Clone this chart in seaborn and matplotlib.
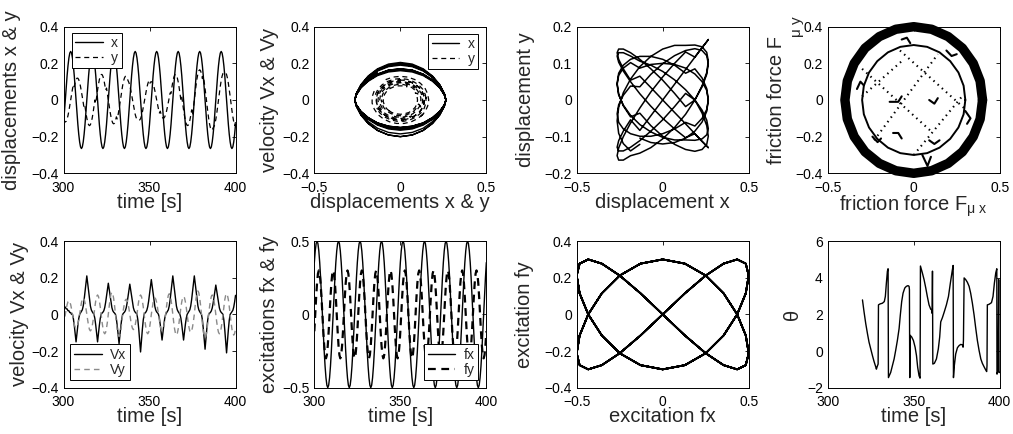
import numpy as np
import matplotlib
matplotlib.use("Agg")
import matplotlib.pyplot as plt
from matplotlib.lines import Line2D
import seaborn as sns

# ---------------- data ----------------
# sampled series share one time base: 193 samples from 300 s to 400 s
time_start, time_end, n_samples = 300.0, 400.0, 193

x_disp = [
    -.133, -.069, 0, .069, .133, .187, .229, .256, .265, .256, .229, .187, .133, .069, 0, -.069, -.133, -.187, -.229, -.256, -.265, -.256, -.229, -.187,
    -.133, -.069, 0, .069, .133, .187, .229, .256, .265, .256, .229, .187, .133, .069, 0, -.069, -.133, -.187, -.229, -.256, -.265, -.256, -.229, -.187,
    -.133, -.069, 0, .069, .133, .187, .229, .256, .265, .256, .229, .187, .133, .069, 0, -.069, -.133, -.187, -.229, -.256, -.265, -.256, -.229, -.187,
    -.133, -.069, 0, .069, .133, .187, .229, .256, .265, .256, .229, .187, .133, .069, 0, -.069, -.133, -.187, -.229, -.256, -.265, -.256, -.229, -.187,
    -.133, -.069, 0, .069, .133, .187, .229, .256, .265, .256, .229, .187, .133, .069, 0, -.069, -.133, -.187, -.229, -.256, -.265, -.256, -.229, -.187,
    -.133, -.069, 0, .069, .133, .187, .229, .256, .265, .256, .229, .187, .133, .069, 0, -.069, -.133, -.187, -.229, -.256, -.265, -.256, -.229, -.187,
    -.133, -.069, 0, .069, .133, .187, .229, .256, .265, .256, .229, .187, .133, .069, 0, -.069, -.133, -.187, -.229, -.256, -.265, -.256, -.229, -.187,
    -.133, -.069, 0, .069, .133, .187, .229, .256, .265, .256, .229, .187, .133, .069, 0, -.069, -.133, -.187, -.229, -.256, -.265, -.256, -.229, -.187,
    -.133]

# y displacement: same beat as x, with a slowly drifting phase and varying amplitude
y_disp = [
    -.104, -.116, -.120, -.116, -.104, -.085, -.060, -.031, 0, .031, .060, .085,
    .073, .095, .111, .119, .119, .111, .095, .073, .046, .016, -.016, -.046,
    -.036, -.070, -.099, -.121, -.135, -.140, -.135, -.121, -.099, -.070, -.036, 0,
    -.018, .018, .054, .085, .111, .129, .139, .139, .129, .111, .085, .054,
    .065, .034, 0, -.034, -.065, -.092, -.113, -.126, -.130, -.126, -.113, -.092,
    -.103, -.079, -.050, -.017, .017, .050, .079, .103, .120, .129, .129, .120,
    .106, .095, .078, .055, .028, 0, -.028, -.055, -.078, -.095, -.106, -.110,
    -.109, -.109, -.102, -.087, -.067, -.042, -.014, .014, .042, .067, .087, .102,
    .087, .097, .100, .097, .087, .071, .050, .026, 0, -.026, -.050, -.071,
    -.061, -.079, -.092, -.099, -.099, -.092, -.079, -.061, -.038, -.013, .013, .038,
    .036, .070, .099, .121, .135, .140, .135, .121, .099, .070, .036, 0,
    .018, -.018, -.054, -.085, -.111, -.129, -.139, -.139, -.129, -.111, -.085, -.054,
    -.083, -.043, 0, .043, .083, .117, .143, .159, .165, .159, .143, .117,
    .131, .100, .063, .022, -.022, -.063, -.100, -.131, -.152, -.164, -.164, -.152,
    -.145, -.130, -.106, -.075, -.039, 0, .039, .075, .106, .130, .145, .150,
    .149, .149, .139, .119, .091, .057, .020, -.020, -.057, -.091, -.119, -.139,
    -.121]

# velocity time trace (Vx against time: sharp peaks, flat shoulders)
vx_vel = [
    .05, .04, .04, .03, .03, .02, .02, .01, .01, 0, 0,
    -.023, -.060, -.105, -.150,
    -.105, -.060, -.023, 0, .008, .015, .025, .046, .080, .122, .168, .210,
    .168, .122, .080, .046, .025, .015, .008, 0, -.023, -.060, -.105, -.150,
    -.105, -.060, -.023, 0, .007, .012, .020, .037, .065, .099, .136, .170,
    .136, .099, .065, .037, .020, .012, .007, 0, -.024, -.064, -.112, -.160,
    -.112, -.064, -.024, 0, .007, .012, .020, .036, .063, .096, .132, .165,
    .132, .096, .063, .036, .020, .012, .007, 0, -.031, -.082, -.144, -.205,
    -.144, -.082, -.031, 0, .008, .013, .023, .042, .072, .110, .152, .190,
    .152, .110, .072, .042, .023, .013, .008, 0, -.021, -.056, -.098, -.140,
    -.098, -.056, -.021, 0, .008, .015, .025, .046, .080, .122, .168, .210,
    .168, .122, .080, .046, .025, .015, .008, 0, -.021, -.056, -.098, -.140,
    -.098, -.056, -.021, 0, .008, .015, .025, .046, .080, .122, .168, .210,
    .168, .122, .080, .046, .025, .015, .008, 0, -.029, -.076, -.133, -.190,
    -.133, -.076, -.029, 0, .006, .011, .019, .035, .061, .093, .128, .160,
    .128, .093, .061, .035, .019, .011, .006, 0, -.032, -.084, -.147, -.210,
    -.147, -.084, -.032, 0, .007, .013, .022, .040, .068, .104]

# velocity (lens-shaped orbits of x)
vx_orbit = [
    .141, .163, .170, .163, .141, .109, .070, .029,
    0, -.027, -.066, -.102, -.133, -.153, -.160, -.153, -.133, -.102, -.066, -.027,
    0, .034, .082, .128, .166, .191, .200, .191, .166, .128, .082, .034,
    0, -.026, -.062, -.096, -.125, -.143, -.150, -.143, -.125, -.096, -.062, -.026,
    0, .029, .070, .109, .141, .163, .170, .163, .141, .109, .070, .029,
    0, -.028, -.068, -.106, -.137, -.158, -.165, -.158, -.137, -.106, -.068, -.028,
    0, .027, .066, .102, .133, .153, .160, .153, .133, .102, .066, .027,
    0, -.034, -.082, -.128, -.166, -.191, -.200, -.191, -.166, -.128, -.082, -.034,
    0, .032, .078, .122, .158, .182, .190, .182, .158, .122, .078, .032,
    0, -.026, -.062, -.096, -.125, -.143, -.150, -.143, -.125, -.096, -.062, -.026,
    0, .035, .084, .131, .170, .196, .205, .196, .170, .131, .084, .035,
    0, -.026, -.064, -.099, -.129, -.148, -.155, -.148, -.129, -.099, -.064, -.026,
    0, .033, .080, .125, .162, .186, .195, .186, .162, .125, .080, .033,
    0, -.031, -.076, -.118, -.154, -.177, -.185, -.177, -.154, -.118, -.076, -.031,
    0, .028, .068, .106, .137, .158, .165, .158, .137, .106, .068, .028,
    0, -.034, -.082, -.128, -.166, -.191, -.200, -.191, -.166, -.128, -.082, -.034,
    0, .031, .074, .115, .149]

# velocity of y (concentric dashed orbits)
vy_orbit = [
    -.047, -.024, 0, .024, .047, .066, .081, .091, .094, .091, .081, .066,
    .075, .057, .036, .012, -.012, -.036, -.057, -.075, -.087, -.093, -.093, -.087,
    -.105, -.094, -.077, -.055, -.028, 0, .028, .055, .077, .094, .105, .109,
    .108, .108, .101, .086, .066, .042, .014, -.014, -.042, -.066, -.086, -.101,
    -.087, -.098, -.101, -.098, -.087, -.071, -.051, -.026, 0, .026, .051, .071,
    .062, .080, .093, .100, .100, .093, .080, .062, .039, .013, -.013, -.039,
    -.022, -.043, -.061, -.074, -.083, -.086, -.083, -.074, -.061, -.043, -.022, 0,
    -.011, .011, .033, .052, .068, .079, .085, .085, .079, .068, .052, .033,
    .039, .020, 0, -.020, -.039, -.055, -.068, -.075, -.078, -.075, -.068, -.055,
    -.062, -.048, -.030, -.010, .010, .030, .048, .062, .072, .077, .077, .072,
    .105, .094, .077, .055, .028, 0, -.028, -.055, -.077, -.094, -.105, -.109,
    -.108, -.108, -.101, -.086, -.066, -.042, -.014, .014, .042, .066, .086, .101,
    .112, .125, .129, .125, .112, .091, .065, .033, 0, -.033, -.065, -.091,
    -.079, -.102, -.119, -.128, -.128, -.119, -.102, -.079, -.049, -.017, .017, .049,
    .030, .059, .083, .101, .113, .117, .113, .101, .083, .059, .030, 0,
    .015, -.015, -.045, -.071, -.093, -.108, -.116, -.116, -.108, -.093, -.071, -.045,
    -.055]

# Vy against time (gray dashed trace, faster wiggle)
vy_vel = [
    -.064, -.034,
    0, .029, .053, .069, .075, .069, .053, .029, 0, -.029, -.053, -.069, -.075, -.069, -.053, -.029,
    0, .034, .064, .083, .090, .083, .064, .034, 0, -.034, -.064, -.083, -.090, -.083, -.064, -.034,
    0, .041, .075, .098, .106, .098, .075, .041, 0, -.041, -.075, -.098, -.106, -.098, -.075, -.041,
    0, .046, .086, .112, .121, .112, .086, .046, 0, -.046, -.086, -.112, -.121, -.112, -.086, -.046,
    0, .032, .059, .077, .083, .077, .059, .032, 0, -.032, -.059, -.077, -.083, -.077, -.059, -.032,
    0, .041, .075, .098, .106, .098, .075, .041, 0, -.041, -.075, -.098, -.106, -.098, -.075, -.041,
    0, .034, .064, .083, .090, .083, .064, .034, 0, -.034, -.064, -.083, -.090, -.083, -.064, -.034,
    0, .043, .080, .104, .113, .104, .080, .043, 0, -.043, -.080, -.104, -.113, -.104, -.080, -.043,
    0, .038, .069, .091, .098, .091, .069, .038, 0, -.038, -.069, -.091, -.098, -.091, -.069, -.038,
    0, .049, .090, .118, .128, .118, .090, .049, 0, -.049, -.090, -.118, -.128, -.118, -.090, -.049,
    0, .041, .075, .098, .106, .098, .075, .041, 0, -.041, -.075, -.098, -.106, -.098, -.075, -.041,
    0, .043, .080, .104, .113, .104, .080, .043, 0, -.043, -.080, -.104, -.113, -.104, -.080]

fx_exc = [
    .354, .433, .483,
    .5, .483, .433, .354, .25, .129, 0, -.129, -.25, -.354, -.433, -.483, -.5, -.483, -.433, -.354, -.25, -.129, 0, .129, .25, .354, .433, .483,
    .5, .483, .433, .354, .25, .129, 0, -.129, -.25, -.354, -.433, -.483, -.5, -.483, -.433, -.354, -.25, -.129, 0, .129, .25, .354, .433, .483,
    .5, .483, .433, .354, .25, .129, 0, -.129, -.25, -.354, -.433, -.483, -.5, -.483, -.433, -.354, -.25, -.129, 0, .129, .25, .354, .433, .483,
    .5, .483, .433, .354, .25, .129, 0, -.129, -.25, -.354, -.433, -.483, -.5, -.483, -.433, -.354, -.25, -.129, 0, .129, .25, .354, .433, .483,
    .5, .483, .433, .354, .25, .129, 0, -.129, -.25, -.354, -.433, -.483, -.5, -.483, -.433, -.354, -.25, -.129, 0, .129, .25, .354, .433, .483,
    .5, .483, .433, .354, .25, .129, 0, -.129, -.25, -.354, -.433, -.483, -.5, -.483, -.433, -.354, -.25, -.129, 0, .129, .25, .354, .433, .483,
    .5, .483, .433, .354, .25, .129, 0, -.129, -.25, -.354, -.433, -.483, -.5, -.483, -.433, -.354, -.25, -.129, 0, .129, .25, .354, .433, .483,
    .5, .483, .433, .354, .25, .129, 0, -.129, -.25, -.354, -.433, -.483, -.5, -.483, -.433, -.354, -.25, -.129, 0, .129, .25, .354]

fy_exc = [
    -.115, 0, .115, .212, .277,
    .3, .277, .212, .115, 0, -.115, -.212, -.277, -.3, -.277, -.212, -.115, 0, .115, .212, .277,
    .3, .277, .212, .115, 0, -.115, -.212, -.277, -.3, -.277, -.212, -.115, 0, .115, .212, .277,
    .3, .277, .212, .115, 0, -.115, -.212, -.277, -.3, -.277, -.212, -.115, 0, .115, .212, .277,
    .3, .277, .212, .115, 0, -.115, -.212, -.277, -.3, -.277, -.212, -.115, 0, .115, .212, .277,
    .3, .277, .212, .115, 0, -.115, -.212, -.277, -.3, -.277, -.212, -.115, 0, .115, .212, .277,
    .3, .277, .212, .115, 0, -.115, -.212, -.277, -.3, -.277, -.212, -.115, 0, .115, .212, .277,
    .3, .277, .212, .115, 0, -.115, -.212, -.277, -.3, -.277, -.212, -.115, 0, .115, .212, .277,
    .3, .277, .212, .115, 0, -.115, -.212, -.277, -.3, -.277, -.212, -.115, 0, .115, .212, .277,
    .3, .277, .212, .115, 0, -.115, -.212, -.277, -.3, -.277, -.212, -.115, 0, .115, .212, .277,
    .3, .277, .212, .115, 0, -.115, -.212, -.277, -.3, -.277, -.212, -.115, 0, .115, .212, .277,
    .3, .277, .212, .115, 0, -.115, -.212, -.277, -.3, -.277, -.212, -.115, 0, .115, .212, .277,
    .3, .277, .212, .115, 0, -.115, -.212, -.277, -.3, -.277, -.212, -.115]

theta_time = [320.2, 321.1, 322.1, 323.1, 324.0, 325.0, 326.0, 326.9, 327.9, 328.3, 328.7, 329.3, 329.5,
              330.4, 331.8, 332.9, 333.5, 334.1, 334.7, 335.1, 335.3, 336.6, 337.6, 338.6, 339.5, 340.5,
              341.5, 342.2, 343.0, 343.8, 344.8, 345.7, 346.7, 347.3, 347.5, 347.7, 347.9, 348.8, 349.8,
              350.8, 351.6, 352.3, 353.1, 353.7, 353.9, 355.0, 356.0, 357.0, 357.9, 358.9, 359.9, 360.5,
              360.7, 360.9, 361.1, 362.0, 363.2, 364.3, 365.1, 365.7, 366.7, 367.8, 369.0, 370.2, 371.3,
              372.5, 372.9, 373.1, 373.6, 374.4, 375.4, 376.4, 377.3, 378.3, 378.7, 378.9, 379.3, 380.2,
              381.2, 382.2, 383.1, 384.1, 385.1, 386.0, 387.0, 388.0, 389.0, 389.9, 390.9, 391.9, 392.4,
              392.6, 392.8, 393.8, 395.2, 396.1, 396.9, 397.7, 398.3, 398.4, 399.0, 399.4, 399.6, 400.0]
theta_val = [2.79, 2.15, 1.50, 0.95, 0.49, 0.12, -0.25, -0.56, -0.86, -0.99, -0.86, -0.71, 2.52,
             2.57, 2.61, 2.70, 2.98, 3.71, 4.36, 4.49, -1.45, -1.17, -0.80, -0.43, 0.03, 0.58,
             1.23, 1.96, 2.70, 3.16, 3.44, 3.53, 3.57, 3.53, 3.35, -1.45, 0.86, 0.77, 0.58,
             0.21, -0.25, -0.89, -1.35, -1.48, 4.64, 4.27, 3.90, 3.44, 2.98, 2.52, 2.28, 2.24,
             2.06, 4.36, -0.71, -0.67, -0.43, 0.12, 0.77, 1.59, 1.83, 2.15, 2.52, 2.98, 3.71,
             4.45, 4.67, -1.45, -0.80, -0.16, 0.18, 0.30, 0.36, 0.34, 0.21, 0.58, 3.99, 3.90,
             3.75, 3.53, 3.16, 2.61, 1.96, 1.28, 0.58, 0.03, -0.43, -0.67, -0.86, -1.04, -1.12,
             -0.80, 2.52, 2.55, 2.64, 2.98, 3.71, 4.27, 4.49, -1.26, -1.08, 3.90, -1.17, -1.17]

# friction force: sliding ring, inner stick circle, dotted stick traces, small hooks
ring_fx = [.4, .386, .346, .283, .2, .104, 0, -.104, -.2, -.283, -.346, -.386, -.4, -.386, -.346, -.283, -.2, -.104, 0, .104, .2, .283, .346, .386, .4]
ring_fy = [0, .104, .2, .283, .346, .386, .4, .386, .346, .283, .2, .104, 0, -.104, -.2, -.283, -.346, -.386, -.4, -.386, -.346, -.283, -.2, -.104, 0]
inner_fx = [.3, .29, .26, .212, .15, .078, 0, -.078, -.15, -.212, -.26, -.29, -.3, -.29, -.26, -.212, -.15, -.078, 0, .078, .15, .212, .26, .29, .3]
inner_fy = [0, .078, .15, .212, .26, .29, .3, .29, .26, .212, .15, .078, 0, -.078, -.15, -.212, -.26, -.29, -.3, -.29, -.26, -.212, -.15, -.078, 0]
trace_x0 = [-0.30, -0.08, -0.23, 0.00, -0.30]
trace_y0 = [0.17, 0.27, -0.22, -0.30, 0.02]
trace_x1 = [0.10, 0.30, 0.14, 0.29, -0.06]
trace_y1 = [-0.17, -0.05, 0.25, 0.03, 0.22]
hook_x = [[-0.14, -0.09, -0.07], [0.09, 0.12, 0.14], [-0.12, -0.09, -0.07], [0.09, 0.12, 0.15],
          [-0.07, -0.04, -0.02], [0.05, 0.08, 0.10], [-0.33, -0.31, -0.29], [0.30, 0.33, 0.31],
          [0.19, 0.22, 0.25], [-0.24, -0.21, -0.19]]
hook_y = [[-0.01, -0.01, 0.02], [0.00, -0.02, 0.01], [-0.18, -0.18, -0.21], [-0.22, -0.24, -0.22],
          [0.33, 0.34, 0.31], [-0.30, -0.36, -0.31], [0.06, 0.10, 0.08], [-0.06, -0.10, -0.13],
          [0.27, 0.24, 0.25], [-0.20, -0.23, -0.21]]

# ticks
time_ticks = [300, 350, 400]
half_ticks = [-0.5, 0, 0.5]
v_ticks = [-0.4, -0.2, 0, 0.2, 0.4]
d_ticks = [-0.2, -0.1, 0, 0.1, 0.2]
th_ticks = [-2, 0, 2, 4, 6]

for arr in (x_disp, y_disp, vx_vel, vx_orbit, vy_orbit, vy_vel, fx_exc, fy_exc):
    assert len(arr) == n_samples, len(arr)
assert len(theta_time) == len(theta_val)

time = np.linspace(time_start, time_end, n_samples)

# ---------------- style ----------------
sns.set_theme(style="white")
plt.rcParams.update({
    "font.family": ["Liberation Sans", "DejaVu Sans"],
    "mathtext.fontset": "custom",
    "mathtext.rm": "Liberation Sans",
    "mathtext.it": "Liberation Sans:italic",
    "mathtext.default": "regular",
    "axes.edgecolor": "black",
    "axes.facecolor": "white",
    "figure.facecolor": "white",
})

fig = plt.figure(figsize=(10.13, 4.34), dpi=100)
col_left = [0.0627, 0.3103, 0.5693, 0.8171]
row_bottom = [0.6007, 0.1067]
ax_w, ax_h = 0.1698, 0.3378
axs = [[fig.add_axes([col_left[c], row_bottom[r], ax_w, ax_h]) for c in range(4)] for r in range(2)]

LABEL_FS = 14.5
TICK_FS = 10
TOP_PAD, BOT_PAD = 5.5, 5.0          # x tick-label pads per row
TOP_XLAB, BOT_XLAB = -0.135, -0.132  # x-label tops per row (axes fraction)


def fmt(v):
    return f"{v:g}".replace("-", "\u2212")


def trace(ax, xs, ys, **kw):
    sns.lineplot(x=np.asarray(xs, float), y=np.asarray(ys, float), sort=False,
                 estimator=None, legend=False, ax=ax, **kw)


def style(ax, xlim, ylim, xt, yt, xlabel, ylabel, ylab_x, xlab_y, xpad):
    ax.set_xlim(xlim)
    ax.set_ylim(ylim)
    ax.set_xticks(xt)
    ax.set_yticks(yt)
    ax.set_xticklabels([fmt(v) for v in xt])
    ax.set_yticklabels([fmt(v) for v in yt])
    ax.tick_params(direction="in", top=True, right=True, length=3.2, width=0.6,
                   labelsize=TICK_FS, colors="black")
    ax.tick_params(axis="x", pad=xpad)
    ax.set_xlabel(xlabel, fontsize=LABEL_FS)
    ax.set_ylabel(ylabel, fontsize=LABEL_FS)
    ax.yaxis.set_label_coords(ylab_x, 0.5)
    ax.xaxis.set_label_coords(0.5, xlab_y)
    for s in ax.spines.values():
        s.set_linewidth(0.7)
        s.set_color("black")


def legend(ax, handles, labels, loc, anchor):
    leg = ax.legend(handles, labels, loc=loc, bbox_to_anchor=anchor, borderaxespad=0,
                    fontsize=10, frameon=True, fancybox=False, framealpha=1,
                    edgecolor="black", handlelength=2.0, handletextpad=0.6,
                    borderpad=0.25, labelspacing=0.05)
    leg.get_frame().set_linewidth(0.7)
    leg.set_zorder(10)


SOLID = dict(color="black", linewidth=1.0)
DASH = dict(color="black", linewidth=0.9, linestyle=(0, (4, 3)))
GDASH = dict(color="#8a8a8a", linewidth=1.0, linestyle=(0, (4, 3)))
BDASH = dict(color="black", linewidth=1.6, linestyle=(0, (3.5, 2.5)))

# ---- panel 1: displacements vs time
ax = axs[0][0]
trace(ax, time, x_disp, **SOLID)
trace(ax, time, y_disp, **DASH)
style(ax, (300, 400), (-0.4, 0.4), time_ticks, v_ticks, "time [s]", "displacements x & y", -0.245, TOP_XLAB, TOP_PAD)
legend(ax, [Line2D([], [], **SOLID), Line2D([], [], **DASH)], ["x", "y"], "upper left", (0.047, 0.959))

# ---- panel 2: phase plane
ax = axs[0][1]
trace(ax, x_disp, vx_orbit, **SOLID)
trace(ax, y_disp, vy_orbit, **DASH)
style(ax, (-0.5, 0.5), (-0.4, 0.4), half_ticks, v_ticks, "displacements x & y", "velocity Vx & Vy", -0.205, TOP_XLAB, TOP_PAD)
legend(ax, [Line2D([], [], **SOLID), Line2D([], [], **DASH)], ["x", "y"], "upper right", (0.953, 0.952))

# ---- panel 3: x vs y
ax = axs[0][2]
trace(ax, x_disp, y_disp, color="black", linewidth=1.1)
style(ax, (-0.5, 0.5), (-0.2, 0.2), half_ticks, d_ticks, "displacement x", "displacement y", -0.243, TOP_XLAB, TOP_PAD)

# ---- panel 4: friction force
ax = axs[0][3]
trace(ax, ring_fx, ring_fy, color="black", linewidth=6.8, clip_on=False, solid_joinstyle="round")
trace(ax, inner_fx, inner_fy, color="black", linewidth=1.4)
for a, b, c, d in zip(trace_x0, trace_y0, trace_x1, trace_y1):
    trace(ax, [a, c], [b, d], color="black", linewidth=1.5, linestyle=(0, (0.7, 2.0)))
for hx, hy in zip(hook_x, hook_y):
    trace(ax, hx, hy, color="black", linewidth=1.5)
style(ax, (-0.5, 0.5), (-0.4, 0.4), half_ticks, v_ticks, r"friction force F$_{\mu\ x}$", "friction force F", -0.243, TOP_XLAB, TOP_PAD)
ax.text(-0.178, 1.0, "\u03bc y", transform=ax.transAxes, rotation=90, ha="center", va="center", fontsize=11)

# ---- panel 5: velocities vs time
ax = axs[1][0]
trace(ax, time, vx_vel, **SOLID)
trace(ax, time, vy_vel, **GDASH)
style(ax, (300, 400), (-0.4, 0.4), time_ticks, v_ticks, "time [s]", "velocity Vx & Vy", -0.20, BOT_XLAB, BOT_PAD)
legend(ax, [Line2D([], [], **SOLID), Line2D([], [], **GDASH)], ["Vx", "Vy"], "lower left", (0.04, 0.052))

# ---- panel 6: excitations vs time
ax = axs[1][1]
trace(ax, time, fx_exc, **SOLID)
trace(ax, time, fy_exc, **BDASH)
style(ax, (300, 400), (-0.5, 0.5), time_ticks, half_ticks, "time [s]", "excitations fx & fy", -0.206, BOT_XLAB, BOT_PAD)
legend(ax, [Line2D([], [], **SOLID), Line2D([], [], **BDASH)], ["fx", "fy"], "lower right", (0.953, 0.052))

# ---- panel 7: fx vs fy
ax = axs[1][2]
trace(ax, fx_exc, fy_exc, color="black", linewidth=1.3)
style(ax, (-0.5, 0.5), (-0.4, 0.4), half_ticks, v_ticks, "excitation fx", "excitation fy", -0.248, BOT_XLAB, BOT_PAD)

# ---- panel 8: theta vs time
ax = axs[1][3]
trace(ax, theta_time, theta_val, color="black", linewidth=1.0)
style(ax, (300, 400), (-2, 6), time_ticks, th_ticks, "time [s]", "\u03b8", -0.15, BOT_XLAB, BOT_PAD)

fig.savefig("out.png", dpi=100)
